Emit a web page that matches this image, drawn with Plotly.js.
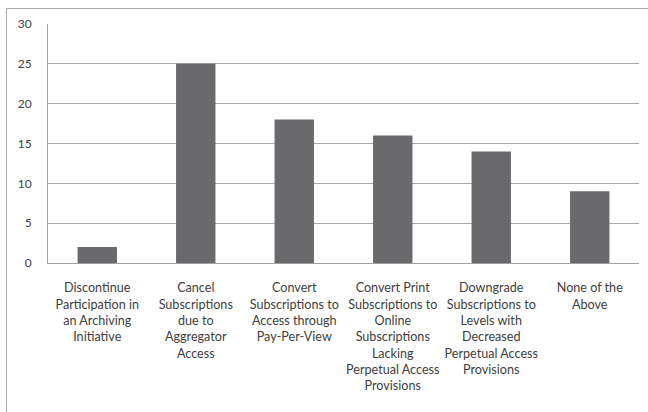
<!DOCTYPE html>
<html>
<head>
<meta charset="utf-8">
<script src="https://cdn.plot.ly/plotly-3.0.1.min.js"></script>
<style>
html,body{margin:0;padding:0;background:#fff;}
#chart{width:648px;height:412px;}
</style>
</head>
<body>
<div id="chart"></div>
<script>
const categories = [
  "Discontinue<br>Participation in<br>an Archiving<br>Initiative",
  "Cancel<br>Subscriptions<br>due to<br>Aggregator<br>Access",
  "Convert<br>Subscriptions to<br>Access through<br>Pay-Per-View",
  "Convert Print<br>Subscriptions to<br>Online<br>Subscriptions<br>Lacking<br>Perpetual Access<br>Provisions",
  "Downgrade<br>Subscriptions to<br>Levels with<br>Decreased<br>Perpetual Access<br>Provisions",
  "None of the<br>Above"
];
const values = [2, 25, 18, 16, 14, 9];
const yTicks = [0, 5, 10, 15, 20, 25, 30];

const xfont = {family: "Lato, Open Sans, sans-serif", size: 12.6, color: "#404040"};
const yfont = {family: "Lato, Open Sans, sans-serif", size: 12, color: "#404040"};

const trace = {
  type: "bar",
  x: categories,
  y: values,
  marker: {color: "#6a6a6d", line: {width: 0}},
  hoverinfo: "skip"
};

const layout = {
  width: 648, height: 412,
  margin: {l: 47.5, r: 9, t: 23.5, b: 148.5, pad: 0},
  paper_bgcolor: "#ffffff",
  plot_bgcolor: "#ffffff",
  showlegend: false,
  bargap: 0.6,
  font: xfont,
  xaxis: {
    type: "category",
    showgrid: false,
    showline: true, linecolor: "#a0a0a0", linewidth: 1,
    ticks: "", tickangle: 0,
    ticklabelstandoff: 13,
    tickfont: xfont,
    fixedrange: true
  },
  yaxis: {
    range: [0, 30],
    tickvals: yTicks,
    ticktext: yTicks.map(String),
    showgrid: true, gridcolor: "#a8a8a8", gridwidth: 1,
    zeroline: false,
    showline: true, linecolor: "#a0a0a0", linewidth: 1,
    ticks: "",
    ticklabelstandoff: 13,
    tickfont: yfont,
    fixedrange: true
  },
  shapes: [{
    type: "rect", xref: "paper", yref: "paper",
    x0: -0.0702, x1: 1.2, y0: -1, y1: 1.0646,
    line: {color: "#a6a6a6", width: 1}, fillcolor: "rgba(0,0,0,0)", layer: "below"
  }]
};

Plotly.newPlot("chart", [trace], layout, {displayModeBar: false, staticPlot: true});
</script>
</body>
</html>
